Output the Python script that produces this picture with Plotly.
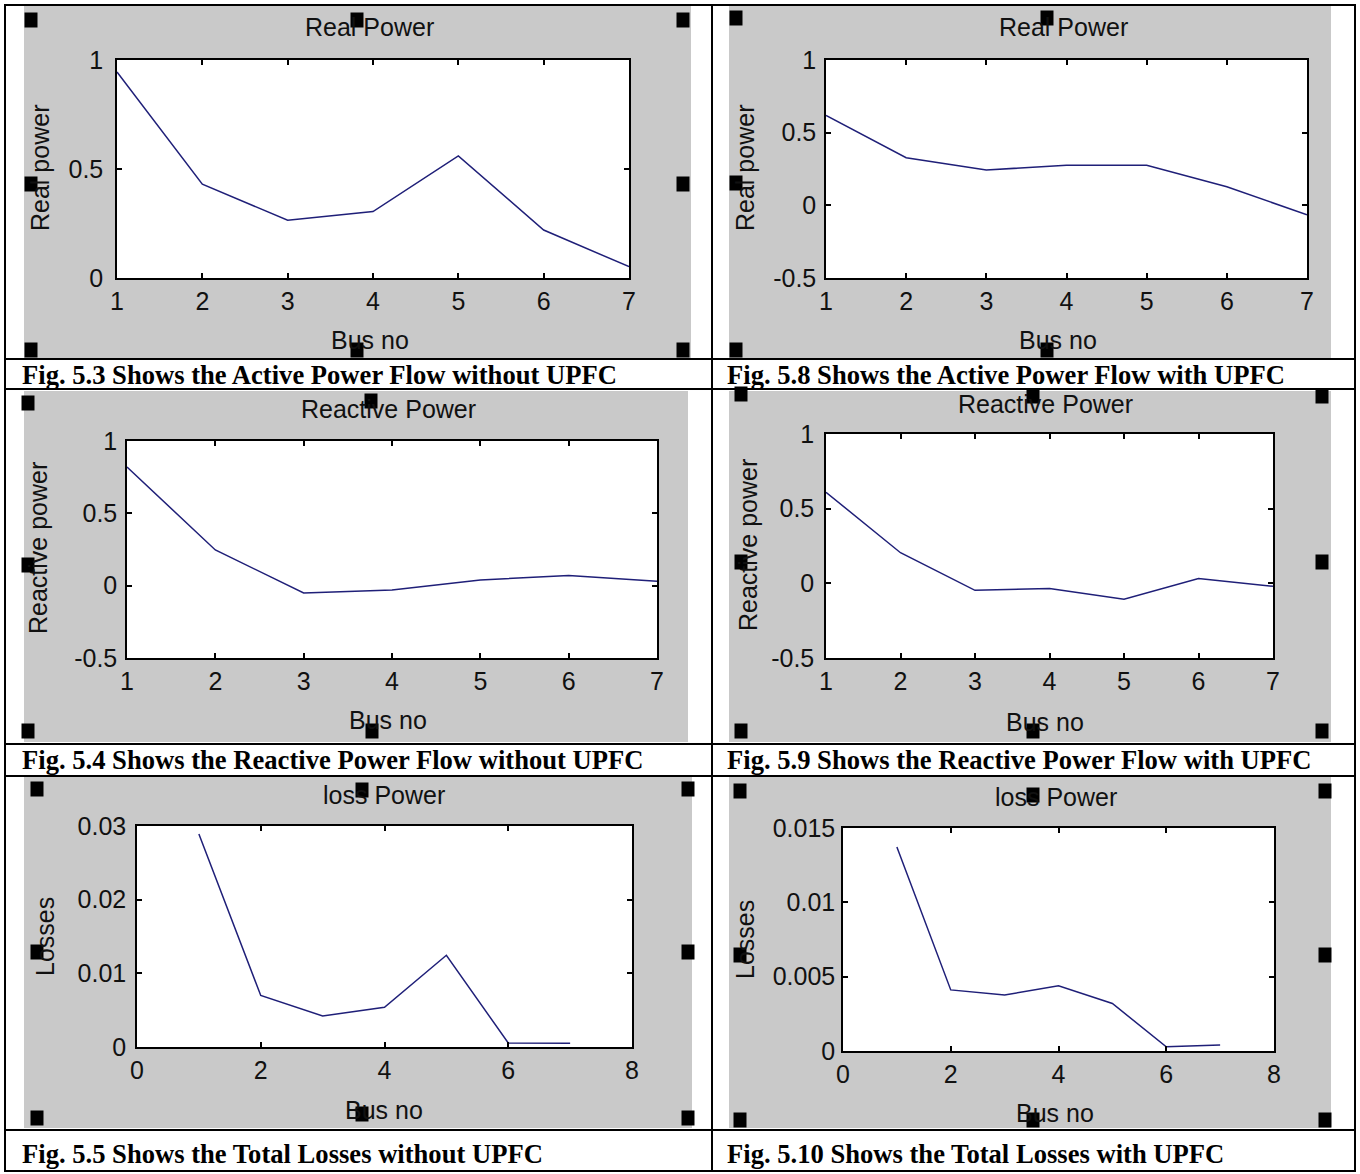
import plotly.graph_objects as go

W, H = 1360, 1174

# ---------------- data ----------------
bus = [1, 2, 3, 4, 5, 6, 7]
real_without = [0.945, 0.43, 0.265, 0.305, 0.56, 0.22, 0.052]
real_with = [0.618, 0.328, 0.243, 0.276, 0.276, 0.128, -0.065]
reactive_without = [0.82, 0.247, -0.05, -0.03, 0.04, 0.07, 0.03]
reactive_with = [0.61, 0.205, -0.047, -0.035, -0.107, 0.033, -0.02]
loss_without = [0.0289, 0.0070, 0.0042, 0.0054, 0.01245, 0.00054, 0.0005]
loss_with = [0.01372, 0.00411, 0.00377, 0.00438, 0.0032, 0.00028, 0.0004]

power_ticks = [-0.5, 0, 0.5, 1]
power_ticktext = ["-0.5", "0", "0.5", "1"]
real_ticks = [0, 0.5, 1]
real_ticktext = ["0", "0.5", "1"]
loss1_ticks = [0, 0.01, 0.02, 0.03]
loss1_ticktext = ["0", "0.01", "0.02", "0.03"]
loss2_ticks = [0, 0.005, 0.01, 0.015]
loss2_ticktext = ["0", "0.005", "0.01", "0.015"]
bus_ticks = [1, 2, 3, 4, 5, 6, 7]
bus8_ticks = [0, 2, 4, 6, 8]

titles = ["Real Power", "Real Power", "Reactive Power", "Reactive Power", "loss Power", "loss Power"]
ytitles = ["Real power", "Real power", "Reactive power", "Reactive power", "Losses", "Losses"]
xtitle = "Bus no"
captions = [
    "Fig. 5.3 Shows the Active Power Flow without UPFC",
    "Fig. 5.8 Shows the Active Power Flow with UPFC",
    "Fig. 5.4 Shows the Reactive Power Flow without UPFC",
    "Fig. 5.9 Shows the Reactive Power Flow with UPFC",
    "Fig. 5.5 Shows the Total Losses without UPFC",
    "Fig. 5.10 Shows the Total Losses with UPFC",
]

# ---------------- layout geometry (pixels) ----------------
def px(x):
    return x / W

def py(y):
    return 1 - y / H

panels = [
    dict(box=(117, 629, 60, 278), gray=(24, 691, 6, 358), y=real_without, yr=[0, 1],
         tv=real_ticks, tt=real_ticktext, xr=[1, 7], xt=bus_ticks, ysd=7,
         title=(370, 27), ytl=(40, 168), xtl=(370, 340)),
    dict(box=(826, 1307, 60, 278), gray=(729, 1331, 6, 358), y=real_with, yr=[-0.5, 1],
         tv=power_ticks, tt=power_ticktext, xr=[1, 7], xt=bus_ticks, ysd=3,
         title=(1063, 27), ytl=(745, 168), xtl=(1058, 340)),
    dict(box=(127, 657, 441, 658), gray=(24, 688, 391, 742), y=reactive_without, yr=[-0.5, 1],
         tv=power_ticks, tt=power_ticktext, xr=[1, 7], xt=bus_ticks, ysd=3,
         title=(388, 409), ytl=(38, 548), xtl=(388, 720)),
    dict(box=(826, 1273, 434, 658), gray=(729, 1331, 391, 742), y=reactive_with, yr=[-0.5, 1],
         tv=power_ticks, tt=power_ticktext, xr=[1, 7], xt=bus_ticks, ysd=5,
         title=(1045, 404), ytl=(748, 545), xtl=(1045, 722)),
    dict(box=(137, 632, 826, 1047), gray=(24, 692, 776, 1128), y=loss_without, yr=[0, 0.03],
         tv=loss1_ticks, tt=loss1_ticktext, xr=[0, 8], xt=bus8_ticks, ysd=4,
         title=(384, 795), ytl=(45, 937), xtl=(384, 1110)),
    dict(box=(843, 1274, 828, 1051), gray=(729, 1331, 777, 1128), y=loss_with, yr=[0, 0.015],
         tv=loss2_ticks, tt=loss2_ticktext, xr=[0, 8], xt=bus8_ticks, ysd=1,
         title=(1056, 797), ytl=(745, 940), xtl=(1055, 1113)),
]

handles = [
    (31, 20), (357, 20), (683, 20), (31, 184), (683, 184), (31, 350), (357, 350), (683, 350),
    (736, 18), (1047, 18), (736, 183), (736, 350), (1047, 350),
    (28, 403), (371, 401), (28, 565), (28, 731), (372, 731),
    (741, 394), (1033, 396), (1322, 396), (741, 562), (1322, 562), (741, 731), (1033, 731), (1322, 731),
    (37, 789), (362, 790), (688, 789), (37, 952), (688, 952), (37, 1118), (362, 1114), (688, 1118),
    (740, 791), (1033, 795), (1325, 791), (740, 955), (1325, 955), (740, 1120), (1033, 1120), (1325, 1120),
]

caption_pos = [(20, 375), (725, 375), (20, 760), (725, 760), (20, 1154), (725, 1154)]

h_lines = [5, 359, 389, 744, 776, 1130, 1171]
v_lines = [5, 712, 1355]

FONT = "Liberation Sans, Arial, Helvetica, sans-serif"
CAPFONT = "Liberation Serif, Times New Roman, serif"
LINE_COLOR = "#1f1f78"

fig = go.Figure()
shapes = []
annotations = []

for p in panels:
    l, r, t, b = p["gray"]
    shapes.append(dict(type="rect", xref="paper", yref="paper", x0=px(l), x1=px(r), y0=py(b), y1=py(t),
                       fillcolor="#c9c9c9", line=dict(width=0), layer="below"))

for i, p in enumerate(panels):
    n = "" if i == 0 else str(i + 1)
    l, r, t, b = p["box"]
    shapes.append(dict(type="rect", xref="paper", yref="paper", x0=px(l), x1=px(r), y0=py(b), y1=py(t),
                       fillcolor="white", line=dict(width=0), layer="below"))
    fig.add_trace(go.Scatter(x=bus, y=p["y"], mode="lines", line=dict(color=LINE_COLOR, width=1.5),
                             xaxis="x" + n, yaxis="y" + n, showlegend=False, hoverinfo="skip"))
    axcommon = dict(showgrid=False, zeroline=False, showline=True, linecolor="black", linewidth=1.5,
                    mirror="ticks", ticks="inside", ticklen=5, tickwidth=1.5, tickcolor="black",
                    automargin=False,
                    tickfont=dict(family=FONT, size=25, color="#111111"), fixedrange=True)
    fig.update_layout(**{
        "xaxis" + n: dict(domain=[px(l), px(r)], range=p["xr"], tickvals=p["xt"],
                          ticktext=[str(v) for v in p["xt"]], anchor="y" + n, ticklabelstandoff=0, **axcommon),
        "yaxis" + n: dict(domain=[py(b), py(t)], range=p["yr"], tickvals=p["tv"], ticktext=p["tt"],
                          anchor="x" + n, ticklabelstandoff=p["ysd"], **axcommon),
    })
    tx, ty = p["title"]
    annotations.append(dict(text=titles[i], x=px(tx), y=py(ty), xref="paper", yref="paper",
                            showarrow=False, xanchor="center", yanchor="middle",
                            font=dict(family=FONT, size=25, color="#111111")))
    ax_, ay_ = p["ytl"]
    annotations.append(dict(text=ytitles[i], x=px(ax_), y=py(ay_), xref="paper", yref="paper",
                            showarrow=False, xanchor="center", yanchor="middle", textangle=-90,
                            font=dict(family=FONT, size=25, color="#111111")))
    bx, by = p["xtl"]
    annotations.append(dict(text=xtitle, x=px(bx), y=py(by), xref="paper", yref="paper",
                            showarrow=False, xanchor="center", yanchor="middle",
                            font=dict(family=FONT, size=25, color="#111111")))

for (cx, cy), txt in zip(caption_pos, captions):
    annotations.append(dict(text="<b>" + txt + "</b>", x=px(cx), y=py(cy), xref="paper", yref="paper",
                            showarrow=False, xanchor="left", yanchor="middle",
                            font=dict(family=CAPFONT, size=26.6, color="black")))

for y in h_lines:
    shapes.append(dict(type="line", xref="paper", yref="paper", x0=px(v_lines[0] - 1), x1=px(v_lines[-1] + 1),
                       y0=py(y), y1=py(y), line=dict(color="black", width=2), layer="above"))
for x in v_lines:
    shapes.append(dict(type="line", xref="paper", yref="paper", x0=px(x), x1=px(x),
                       y0=py(h_lines[0]), y1=py(h_lines[-1]), line=dict(color="black", width=2), layer="above"))

for hx, hy in handles:
    shapes.append(dict(type="rect", xref="paper", yref="paper", x0=px(hx - 6.5), x1=px(hx + 6.5),
                       y0=py(hy + 7.5), y1=py(hy - 7.5), fillcolor="black", line=dict(width=0), layer="above"))

fig.update_layout(width=W, height=H, margin=dict(l=0, r=0, t=0, b=0, pad=0, autoexpand=False),
                  paper_bgcolor="white", plot_bgcolor="white", showlegend=False,
                  shapes=shapes, annotations=annotations)

fig.write_html("out.html", config={"displayModeBar": False},
               post_script="document.body.style.margin='0px';document.body.style.overflow='hidden';")
